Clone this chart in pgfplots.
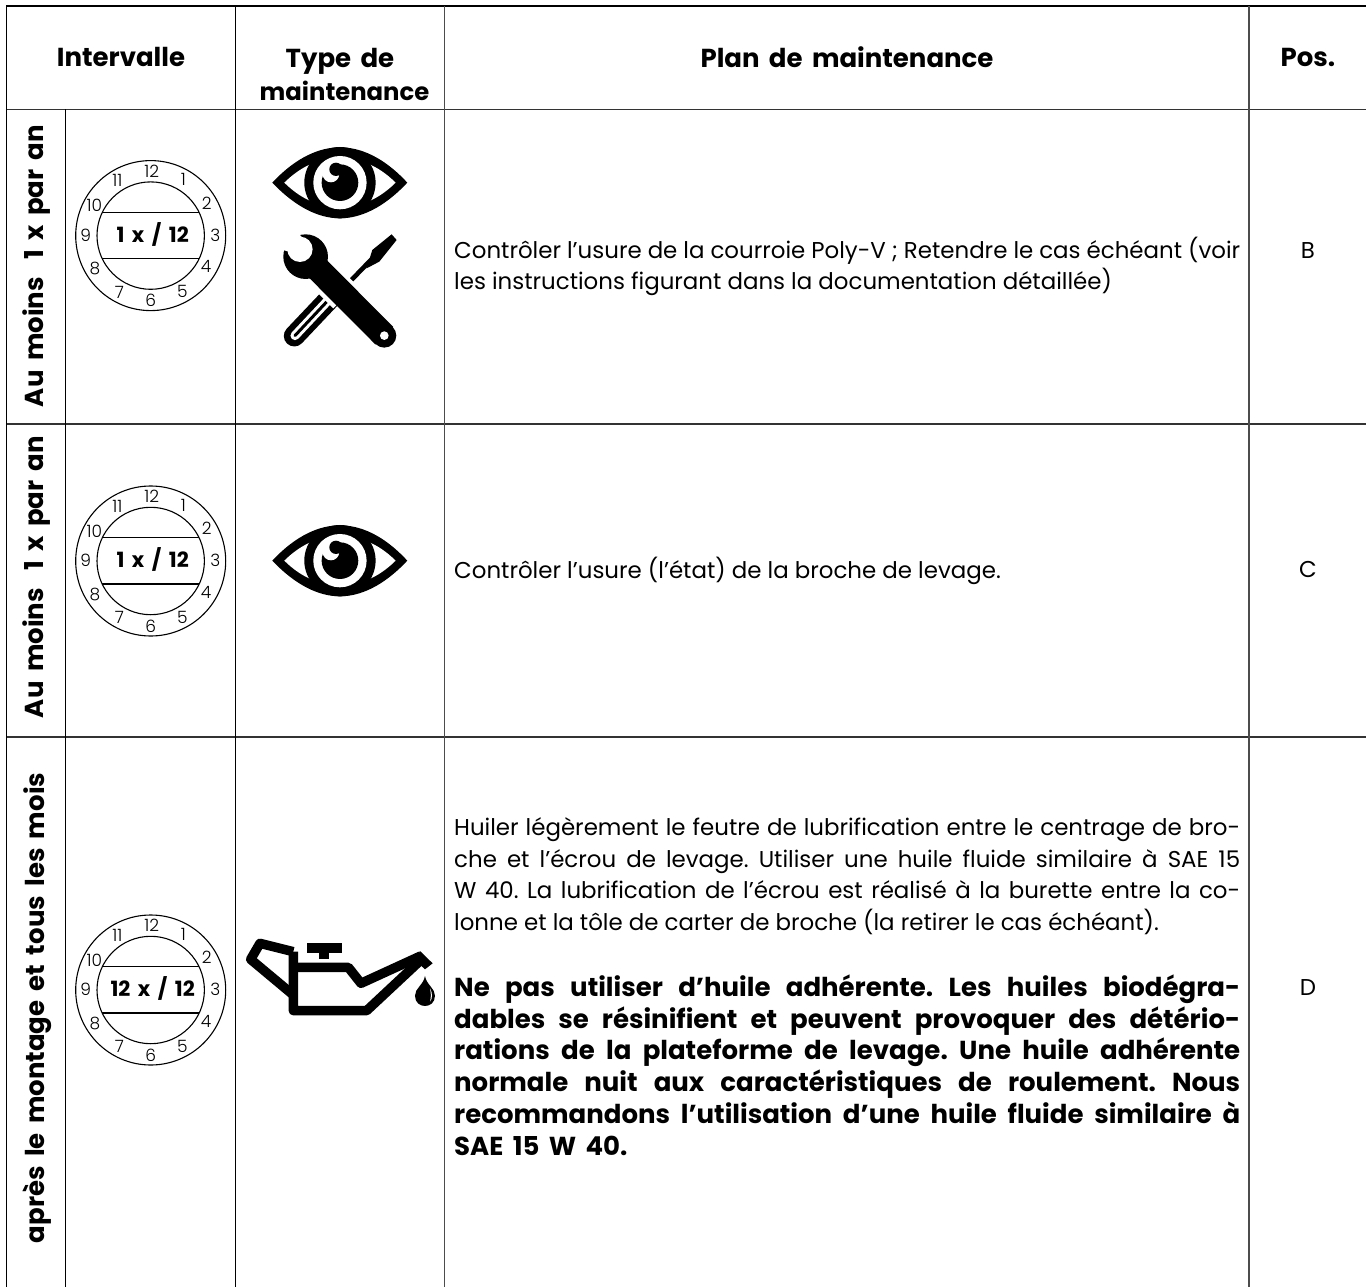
\documentclass[border=0pt]{standalone}
\usepackage{pgfplots}
\pgfplotsset{compat=1.18}
\usepackage{fontspec}
\setmainfont{Poppins}[BoldFont=* Bold,BoldFeatures={WordSpace=1.7}]
\newfontfamily\lightf{Poppins}[UprightFont=* Light]
\frenchspacing
\newcommand{\bd}{\fontsize{26}{30}\selectfont\bfseries}
\newcommand{\tx}{\fontsize{22.9}{30}\selectfont}
\newcommand{\num}{\fontsize{17}{18}\selectfont\lightf}
\newcommand{\clocklabels}[1]{%
 \node[font=\num] at (1,-64.7){12};
 \node[font=\num] at (32.7,-55.7){1};
 \node[font=\num] at (56,-32.3){2};
 \node[font=\num] at (64.7,-0.7){3};
 \node[font=\num] at (55.3,31){4};
 \node[font=\num] at (31.7,56){5};
 \node[font=\num] at (0,65){6};
 \node[font=\num] at (-31.3,56.7){7};
 \node[font=\num] at (-55.7,33.3){8};
 \node[font=\num] at (-65,-0.7){9};
 \node[font=\num] at (-56.3,-30){10};
 \node[font=\num] at (-33.3,-55){11};
 \node[font=\fontsize{21}{24}\selectfont\bfseries] at (2,-1.5){#1};
 \draw[line width=1.1pt] (0,0) circle[radius=75];
 \draw[line width=1.1pt] (0,0) circle[radius=53.7];
 \draw[line width=1.1pt] (-48.3,-23.5)--(48.3,-23.5);
 \draw[line width=1.1pt] (-48.3,23)--(48.3,23);
}
\newcommand{\eyeicon}{%
 \fill[black] (817,278) .. controls (890,200) and (960,172) .. (1020,172) .. controls (1080,172) and (1150,200) .. (1222,278) .. controls (1150,355) and (1080,385) .. (1020,385) .. controls (960,385) and (890,355) .. (817,278) -- cycle;
 \fill[white] (853,278) .. controls (910,222) and (965,205) .. (1020,205) .. controls (1075,205) and (1130,222) .. (1187,278) .. controls (1130,334) and (1075,351) .. (1020,351) .. controls (965,351) and (910,334) .. (853,278) -- cycle;
 \fill[black] (1020,278) circle[radius=107];
 \fill[white] (1020,278) circle[radius=80];
 \fill[black] (1020,278) circle[radius=55];
 \fill[white] (993,252) circle[radius=25];
 \fill[black] (1008,238) circle[radius=20];
}
\begin{document}
\begin{tikzpicture}
\begin{axis}[
  width=1366pt,height=1287pt,scale only axis,
  xmin=0,xmax=1366,ymin=0,ymax=1287,y dir=reverse,
  axis lines=none,clip=true,ticks=none,
]
\draw[white,line width=0.1pt] (axis cs:0,0) rectangle (axis cs:1366,1287);
% table rules
\addplot[black,line width=1.3pt,forget plot] coordinates {(6.3,6)(1366,6)};
\addplot[black!80,line width=1.3pt,forget plot] coordinates {(6.3,109.5)(1366,109.5)};
\addplot[black!80,line width=1.3pt,forget plot] coordinates {(6.3,424)(1366,424)};
\addplot[black!80,line width=1.3pt,forget plot] coordinates {(6.3,737)(1366,737)};
\addplot[black,line width=1.3pt,forget plot] coordinates {(6.3,6)(6.3,1287)};
\addplot[black,line width=1.1pt,forget plot] coordinates {(65.7,109.5)(65.7,1287)};
\addplot[black,line width=1.1pt,forget plot] coordinates {(235.7,6)(235.7,1287)};
\addplot[black!70,line width=1.4pt,forget plot] coordinates {(444.3,6)(444.3,1287)};
\addplot[black!70,line width=1.4pt,forget plot] coordinates {(1249,6)(1249,1287)};
% headers
\node[font=\bd] at (axis cs:121,57){Intervalle};
\node[font=\bd] at (axis cs:340,61){Type de};
\node[font=\fontsize{24.3}{30}\selectfont\bfseries] at (axis cs:344.5,91){maintenance};
\node[font=\bd] at (axis cs:847,57){Plan de maintenance};
\node[font=\bd] at (axis cs:1308,57){Pos.};
% rotated
\node[font=\bd,rotate=90] at (axis cs:37,266){Au moins\hspace{8pt} 1 x par an};
\node[font=\bd,rotate=90] at (axis cs:37,577){Au moins\hspace{8pt} 1 x par an};
\node[font=\bd,rotate=90] at (axis cs:37,1008){après le montage et tous les mois};
% pos
\node[font=\tx,anchor=base] at (axis cs:1308,258){B};
\node[font=\tx,anchor=base] at (axis cs:1308,577){C};
\node[font=\tx,anchor=base] at (axis cs:1308,995){D};
% body
\tikzset{ln/.style={anchor=base west,inner sep=0pt,font=\tx},bl/.style={anchor=base west,inner sep=0pt,font=\bd}}
\node[ln] at (axis cs:454,258){\makebox[786pt][s]{Contrôler l’usure de la courroie Poly-V ; Retendre le cas échéant (voir}};
\node[ln] at (axis cs:454,289){les instructions figurant dans la documentation détaillée)};
\node[ln] at (axis cs:454,578){Contrôler l’usure (l’état) de la broche de levage.};
\node[ln] at (axis cs:454,835){\makebox[786pt][s]{Huiler légèrement le feutre de lubrification entre le centrage de bro-}};
\node[ln] at (axis cs:454,867){\makebox[786pt][s]{che et l’écrou de levage. Utiliser une huile fluide similaire à SAE 15}};
\node[ln] at (axis cs:454,898){\makebox[786pt][s]{W 40. La lubrification de l’écrou est réalisé à la burette entre la co-}};
\node[ln] at (axis cs:454,930){lonne et la tôle de carter de broche (la retirer le cas échéant).};
\node[bl] at (axis cs:454,996){\makebox[786pt][s]{Ne pas utiliser d’huile adhérente. Les huiles biodégra-}};
\node[bl] at (axis cs:454,1028){\makebox[786pt][s]{dables se résinifient et peuvent provoquer des détério-}};
\node[bl] at (axis cs:454,1059){\makebox[786pt][s]{rations de la plateforme de levage. Une huile adhérente}};
\node[bl] at (axis cs:454,1091){\makebox[786pt][s]{normale nuit aux caractéristiques de roulement. Nous}};
\node[bl] at (axis cs:454,1123){\makebox[786pt][s]{recommandons l’utilisation d’une huile fluide similaire à}};
\node[bl] at (axis cs:454,1155){SAE 15 W 40.};
% clocks
\begin{scope}[shift={(axis cs:150.7,235.6)},x=1pt,y=-1pt]\clocklabels{1 x / 12}\end{scope}
\begin{scope}[shift={(axis cs:150.7,561)},x=1pt,y=-1pt]\clocklabels{1 x / 12}\end{scope}
\begin{scope}[shift={(axis cs:150.7,990)},x=1pt,y=-1pt]\clocklabels{12 x / 12}\end{scope}
% eye 1 + tools (coordinates in zoom units)
\begin{scope}[shift={(axis cs:0,90)},x=0.3333pt,y=-0.3333pt]
 \eyeicon
 % screwdriver
 \draw[line width=4.6pt] (1040,585)--(1130,492);
 \fill (1117,480)--(1175,433)--(1190,450)--(1138,515)--(1100,535)--cycle;
 \draw[line width=21pt,line cap=round] (990,625)--(883,738);
 \draw[white,line width=9pt,line cap=round] (990,625)--(885,737);
 \draw[line width=3pt,line cap=round] (990,625)--(885,737);
 % wrench
 \draw[white,line width=33pt] (975,560)--(1035,620);
 \fill (917,500) circle[radius=67];
 \draw[line width=25pt] (945,528)--(1153,737);
 \fill (1153,737) circle[radius=36];
 \fill[white] (1153,737) circle[radius=13];
 \fill[white] (900,478) circle[radius=38];
 \fill[white] (905,440)--(870,410)--(820,470)--(862,484)--(900,478)--cycle;
\end{scope}
\begin{scope}[shift={(axis cs:0,468)},x=0.3333pt,y=-0.3333pt]\eyeicon\end{scope}
% oil can
\begin{scope}[shift={(axis cs:230,880)},x=0.3333pt,y=-0.3333pt]
 \draw[line width=9.5pt,line join=round] (190,262)--(355,262)--(393,310)--(572,228);
 \draw[line width=9.5pt,line join=round] (190,215)--(190,392)--(410,392)--(578,235);
 \draw[line width=9.5pt,line join=round] (190,345)--(62,238)--(90,190)--(190,215);
 \fill (232,190) rectangle (335,220);
 \fill (268,220) rectangle (298,238);
 \fill (570,213)--(608,250)--(585,268)--(555,240)--cycle;
 \fill (585,288) .. controls (590,315) and (615,325) .. (615,347) .. controls (615,368) and (600,378) .. (585,378) .. controls (570,378) and (555,368) .. (555,347) .. controls (555,325) and (580,315) .. (585,288) -- cycle;
 \fill[white] (600,325) .. controls (608,340) and (608,355) .. (600,365) .. controls (604,350) and (603,340) .. (600,325) -- cycle;
\end{scope}
\end{axis}
\end{tikzpicture}
\end{document}
